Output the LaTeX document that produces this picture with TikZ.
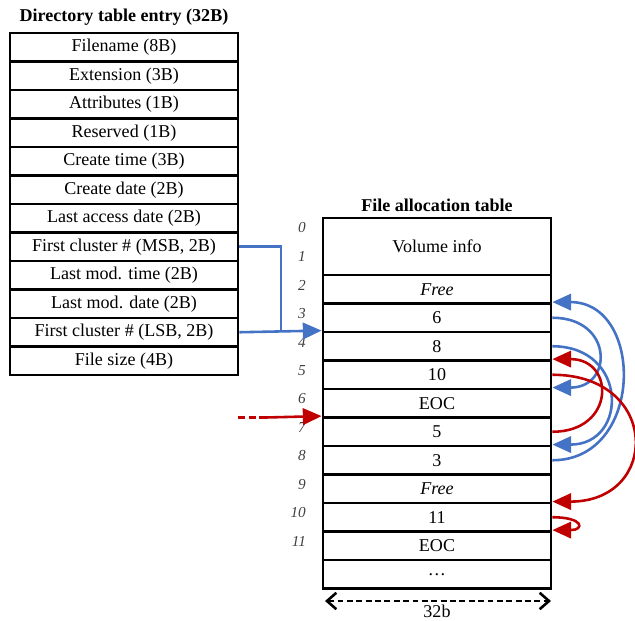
\documentclass[tikz,border=0pt]{standalone}
\usepackage{fontspec}
\setmainfont{Liberation Serif}
\usetikzlibrary{arrows.meta}
\definecolor{fatblue}{RGB}{68,114,196}
\definecolor{fatred}{RGB}{192,0,0}
\begin{document}
\begin{tikzpicture}[x=0.03cm, y=-0.03cm,
    cell/.style={draw, line width=2.4pt, minimum width=6.84cm, minimum height=0.855cm, inner sep=0pt, font=\fontsize{15.4}{18}\selectfont},
    title/.style={font=\fontsize{15.4}{18}\selectfont\bfseries},
    idx/.style={anchor=east, font=\fontsize{13}{15}\selectfont\itshape, text=black!75},
    blueline/.style={draw=fatblue, line width=2.2pt},
    redline/.style={draw=fatred, line width=2.2pt},
    tip/.style={-{Triangle[length=16pt,width=14pt]}}]
	  \useasboundingbox (0,0) rectangle (635,621);

	  % directory table entry
	  \node[title] (dirtitle) at (124,17) {Directory table entry (32B)};
	  \foreach \txt [count=\i] in {Filename (8B), Extension (3B), Attributes (1B), Reserved (1B), Create time (3B), Create date (2B), Last access date (2B), {First cluster \# (MSB, 2B)}, Last mod. time (2B), Last mod. date (2B), {First cluster \# (LSB, 2B)}, File size (4B)}
	    \node[cell] (d\i) at (124, 18.75+28.5*\i) {\txt};

	  % file allocation table
	  \node[title] (fattitle) at (437,205) {File allocation table};
	  \node[cell, minimum height=1.71cm] (f0) at (437,246.5) {Volume info};
	  \foreach \txt [count=\k from 2] in {\textit{Free}, 6, 8, 10, EOC, 5, 3, \textit{Free}, 11, EOC, \dots}
	    \node[cell] (f\k) at (437, 232.25+28.5*\k) {\txt};
	  \foreach \k in {0,...,11} \node[idx] (n\k) at (310, 228+28.5*\k) {\k};

	  % first cluster pointer
	  \coordinate (msbbend) at (281,0);
	  \draw[blueline] (d8.east) -| (d11.east -| msbbend);
	  \draw[blueline, tip] (d11.east) -- (f4.north west);

	  \coordinate (redin) at (238,417.5);
	  \draw[redline, dash pattern=on 6pt off 3pt] (redin) -- ++(28,0) coordinate (redsolid);
	  \draw[redline, tip] (redsolid) -- (f7.north west);

	  % cluster chains
	  \draw[blueline, tip] (f8.east) .. controls +(92,0) and +(92,0) .. (f3.north east);
	  \draw[blueline, tip] (f3.east) .. controls +(61,0) and +(61,0) .. (f6.north east);
	  \draw[blueline, tip] (f4.east) .. controls +(76,0) and +(76,0) .. (f8.north east);

	  \draw[redline, tip] (f7.east) .. controls +(63,0) and +(63,0) .. (f5.north east);
	  \draw[redline, tip] (f5.east) .. controls +(108,0) and +(108,0) .. (f10.north east);
	  \draw[redline, tip] (f10.east) .. controls +(32,0) and +(32,0) .. (f11.north east);

	  % width
	  \coordinate (dimL) at (325,601);
	  \coordinate (dimR) at (551,601);
	  \draw[line width=2.2pt, dash pattern=on 5pt off 3pt, {Straight Barb[length=8pt,width=14pt]}-{Straight Barb[length=8pt,width=14pt]}] (dimL) -- (dimR);
	  \node[font=\fontsize{15.4}{18}\selectfont] (dimlabel) at (437,611) {32b};

	\end{tikzpicture}
\end{document}
